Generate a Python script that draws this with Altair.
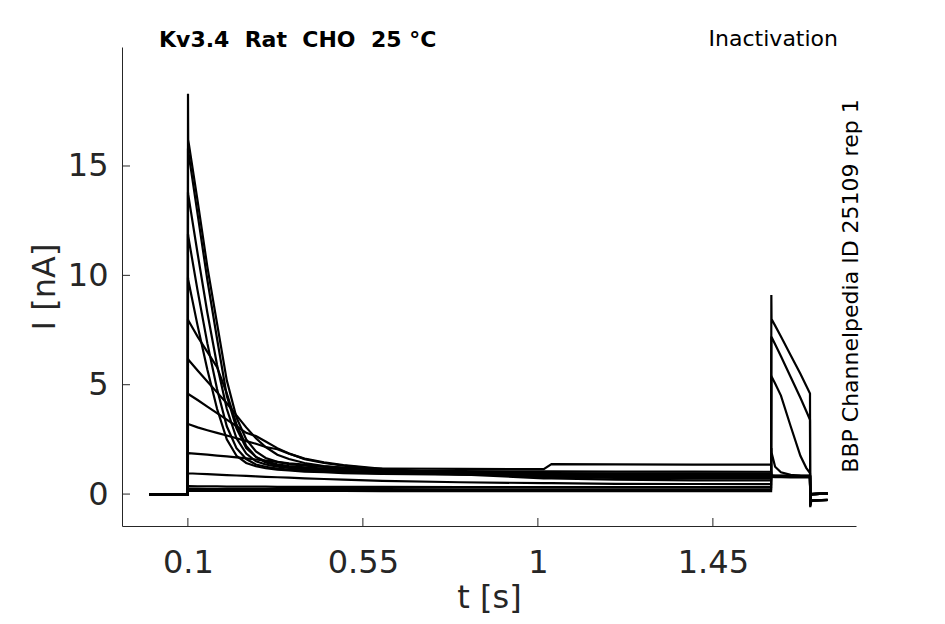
import altair as alt
import pandas as pd

# ---- time grids (s) ----
TIME_PRE = [0.0, 0.0997, 0.1003, 0.1008, 0.125, 0.15, 0.175, 0.2,
            0.225, 0.25, 0.275, 0.3, 0.33, 0.36, 0.4, 0.45,
            0.5, 0.6, 0.8, 1.015, 1.035, 1.2, 1.4, 1.5997]
TIME_TEST = [1.6003, 1.6008, 1.61, 1.625, 1.65, 1.675, 1.69, 1.6997]
TIME_TAIL = [1.7003, 1.703, 1.745]

# ---- sweeps: current (nA) on TIME_PRE + TIME_TEST + TIME_TAIL ----
sweep_01 = [-0.03, -0.02, 0.15, 0.14, 0.14, 0.14, 0.14, 0.14,
            0.14, 0.14, 0.14, 0.14, 0.14, 0.14, 0.14, 0.14,
            0.14, 0.13, 0.13, 0.13, 0.13, 0.13, 0.13, 0.13,
            9.1, 8.0, 7.7, 7.2, 6.35, 5.5, 4.95, 4.6,
            -0.6, -0.3, -0.28]
sweep_02 = [-0.03, -0.02, 0.26, 0.24, 0.24, 0.23, 0.23, 0.23,
            0.23, 0.23, 0.23, 0.23, 0.23, 0.23, 0.23, 0.23,
            0.23, 0.23, 0.22, 0.22, 0.22, 0.22, 0.22, 0.22,
            7.2, 7.18, 6.85, 6.3, 5.35, 4.4, 3.8, 3.4,
            -0.55, -0.3, -0.27]
sweep_03 = [-0.03, -0.02, 0.38, 0.36, 0.35, 0.35, 0.35, 0.34,
            0.34, 0.34, 0.34, 0.34, 0.33, 0.33, 0.33, 0.33,
            0.33, 0.33, 0.32, 0.32, 0.32, 0.32, 0.32, 0.32,
            5.4, 5.38, 5.05, 4.5, 3.1, 1.75, 1.2, 0.96,
            -0.5, -0.3, -0.27]
sweep_04 = [-0.03, -0.02, 0.96, 0.95, 0.93, 0.91, 0.89, 0.87,
            0.85, 0.83, 0.81, 0.79, 0.77, 0.75, 0.72, 0.69,
            0.66, 0.6, 0.54, 0.5, 0.5, 0.47, 0.46, 0.45,
            2.1, 1.9, 1.25, 1.0, 0.88, 0.83, 0.82, 0.82,
            -0.45, -0.3, -0.27]
sweep_05 = [-0.03, -0.02, 1.87, 1.87, 1.84, 1.8, 1.76, 1.72,
            1.68, 1.63, 1.58, 1.53, 1.47, 1.41, 1.35, 1.27,
            1.2, 1.07, 0.9, 0.72, 0.72, 0.66, 0.63, 0.62,
            0.84, 0.84, 0.82, 0.81, 0.8, 0.8, 0.8, 0.8,
            -0.2, 0.0, 0.02]
sweep_06 = [-0.03, -0.02, 3.2, 3.2, 3.05, 2.92, 2.8, 2.68,
            2.55, 2.42, 2.3, 2.15, 2.05, 1.85, 1.62, 1.45,
            1.32, 1.15, 0.95, 0.78, 0.77, 0.74, 0.72, 0.7,
            0.82, 0.82, 0.8, 0.8, 0.79, 0.79, 0.79, 0.79,
            -0.2, 0.0, 0.02]
sweep_07 = [-0.03, -0.02, 4.6, 4.58, 4.3, 4.0, 3.7, 3.4,
            3.1, 2.8, 2.65, 2.4, 2.1, 1.85, 1.6, 1.42,
            1.3, 1.12, 0.95, 0.8, 0.8, 0.78, 0.77, 0.76,
            0.8, 0.8, 0.79, 0.78, 0.78, 0.78, 0.78, 0.78,
            -0.2, 0.0, 0.02]
sweep_08 = [-0.03, -0.02, 6.2, 6.15, 5.65, 5.15, 4.65, 4.15,
            3.6, 3.05, 2.55, 2.15, 1.8, 1.6, 1.42, 1.28,
            1.2, 1.07, 0.93, 0.85, 0.84, 0.82, 0.8, 0.8,
            0.78, 0.78, 0.77, 0.77, 0.76, 0.76, 0.76, 0.76,
            -0.2, 0.0, 0.02]
sweep_09 = [-0.03, -0.02, 8.0, 7.95, 7.2, 6.5, 5.8, 4.6,
            3.2, 2.2, 1.7, 1.45, 1.3, 1.22, 1.15, 1.1,
            1.05, 0.97, 0.9, 0.86, 0.86, 0.85, 0.85, 0.84,
            0.8, 0.8, 0.79, 0.79, 0.79, 0.79, 0.79, 0.79,
            -0.2, 0.0, 0.02]
sweep_10 = [-0.03, -0.02, 9.9, 9.8, 7.7, 5.7, 3.9, 2.5,
            1.75, 1.42, 1.27, 1.18, 1.12, 1.08, 1.03, 1.0,
            0.96, 0.92, 0.89, 0.88, 0.88, 0.87, 0.87, 0.87,
            0.81, 0.81, 0.8, 0.8, 0.8, 0.8, 0.8, 0.8,
            -0.2, 0.0, 0.02]
sweep_11 = [-0.03, -0.02, 11.9, 11.8, 9.3, 6.9, 4.8, 3.1,
            2.1, 1.6, 1.35, 1.25, 1.17, 1.12, 1.07, 1.03,
            1.0, 0.95, 0.92, 0.91, 0.91, 0.9, 0.9, 0.9,
            0.82, 0.82, 0.81, 0.81, 0.81, 0.81, 0.81, 0.81,
            -0.2, 0.0, 0.02]
sweep_12 = [-0.03, -0.02, 13.8, 13.7, 11.0, 8.3, 5.9, 3.9,
            2.55, 1.85, 1.5, 1.35, 1.25, 1.2, 1.14, 1.1,
            1.06, 1.0, 0.97, 0.96, 0.96, 0.95, 0.95, 0.95,
            0.83, 0.83, 0.82, 0.82, 0.82, 0.82, 0.82, 0.82,
            -0.2, 0.0, 0.02]
sweep_13 = [-0.03, -0.02, 15.8, 15.7, 12.8, 9.8, 7.1, 4.5,
            3.0, 2.1, 1.7, 1.5, 1.36, 1.28, 1.22, 1.17,
            1.13, 1.08, 1.05, 1.04, 1.04, 1.03, 1.03, 1.02,
            0.84, 0.84, 0.83, 0.83, 0.83, 0.83, 0.83, 0.83,
            -0.2, 0.0, 0.02]
sweep_14 = [-0.03, -0.02, 18.3, 16.2, 13.4, 10.4, 7.8, 5.2,
            3.5, 2.5, 1.95, 1.65, 1.47, 1.37, 1.3, 1.24,
            1.2, 1.17, 1.15, 1.14, 1.37, 1.36, 1.35, 1.35,
            0.85, 0.85, 0.84, 0.84, 0.84, 0.84, 0.84, 0.84,
            -0.2, 0.0, 0.02]

SWEEPS = [sweep_01, sweep_02, sweep_03, sweep_04, sweep_05, sweep_06, sweep_07,
          sweep_08, sweep_09, sweep_10, sweep_11, sweep_12, sweep_13, sweep_14]

X_TICKS = [0.1, 0.55, 1.0, 1.45]
Y_TICKS = [0, 5, 10, 15]
X_DOMAIN = [-0.0694, 1.818]
Y_DOMAIN = [-1.46, 20.44]

TITLE_LEFT = "Kv3.4\u00a0 Rat\u00a0 CHO\u00a0 25 °C"
TITLE_RIGHT = "Inactivation"
SIDE_NOTE = "BBP Channelpedia ID 25109 rep 1"
X_TITLE = "t [s]"
Y_TITLE = "I [nA]"

# ---- build table ----
times = TIME_PRE + TIME_TEST + TIME_TAIL
rows = []
for n, vals in enumerate(SWEEPS):
    assert len(vals) == len(times), (n, len(vals))
    for k, (t, v) in enumerate(zip(times, vals)):
        rows.append({"sweep": n, "k": k, "t": t, "i": v})
df = pd.DataFrame(rows)

W, H = 734, 479
FONT = "DejaVu Sans"
GREY = "#262626"

xs = alt.Scale(domain=X_DOMAIN, nice=False, zero=False)
ys = alt.Scale(domain=Y_DOMAIN, nice=False, zero=False)
x_axis = alt.Axis(values=X_TICKS, format=".3~g", title=X_TITLE,
                  labelPadding=21, titlePadding=4)
y_axis = alt.Axis(values=Y_TICKS, format=".3~g", title=Y_TITLE,
                  labelPadding=14, titlePadding=6)

lines = alt.Chart(df).mark_line(color="black", strokeWidth=2.2).encode(
    x=alt.X("t:Q", scale=xs, axis=x_axis, title=X_TITLE),
    y=alt.Y("i:Q", scale=ys, axis=y_axis, title=Y_TITLE),
    detail="sweep:N",
    order="k:Q",
)

xticks = alt.Chart(pd.DataFrame({"v": X_TICKS})).mark_rule(color=GREY, strokeWidth=1).encode(
    x=alt.X("v:Q", scale=xs, axis=x_axis, title=X_TITLE),
    y=alt.value(H), y2=alt.value(H - 8),
)
yticks = alt.Chart(pd.DataFrame({"v": Y_TICKS})).mark_rule(color=GREY, strokeWidth=1).encode(
    y=alt.Y("v:Q", scale=ys, axis=y_axis, title=Y_TITLE),
    x=alt.value(0), x2=alt.value(8),
)

t_left = alt.Chart(pd.DataFrame({"s": [TITLE_LEFT]})).mark_text(
    font=FONT, fontSize=22, fontWeight="bold", align="left", baseline="alphabetic", color="black"
).encode(text="s:N", x=alt.value(37), y=alt.value(0))

t_right = alt.Chart(pd.DataFrame({"s": [TITLE_RIGHT]})).mark_text(
    font=FONT, fontSize=22, align="right", baseline="alphabetic", color="black"
).encode(text="s:N", x=alt.value(716), y=alt.value(-1))

t_side = alt.Chart(pd.DataFrame({"s": [SIDE_NOTE]})).mark_text(
    font=FONT, fontSize=22, align="center", baseline="middle", angle=270, color="black"
).encode(text="s:N", x=alt.value(729), y=alt.value(239))

chart = alt.layer(lines, xticks, yticks, t_left, t_right, t_side).properties(
    width=W, height=H,
    padding={"left": 114, "top": 39, "right": 81, "bottom": 90},
    autosize=alt.AutoSizeParams(type="none"),
).configure_view(stroke=None).configure_axis(
    grid=False, ticks=False, tickSize=0,
    domainColor=GREY, domainWidth=1,
    labelFont=FONT, labelFontSize=32, labelColor=GREY,
    titleFont=FONT, titleFontSize=32, titleFontWeight="normal", titleColor=GREY,
)

chart.save("out.html", embed_options={"renderer": "svg", "actions": False})
